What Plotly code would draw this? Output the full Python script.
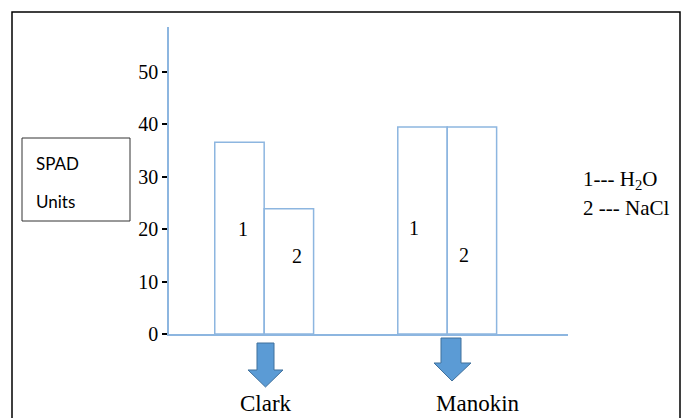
import plotly.graph_objects as go

# ---- data ----
cultivars = ["Clark", "Manokin"]
h2o_values = [36.6, 39.5]
nacl_values = [23.9, 39.5]
y_ticks = [0, 10, 20, 30, 40, 50]
series_ids = ["1", "2"]
legend_lines = ["1--- H<sub>2</sub>O", "2 --- NaCl"]
y_axis_title = ["SPAD", "Units"]

W, H = 689, 418
ML, MR, MT, MB = 169, 121, 27, 84
PW, PH = W - ML - MR, H - MT - MB
YMAX = 58.6
BLUE = "#8db6e0"
SERIF = "Liberation Serif, Times New Roman, serif"


def px(x):
    return (x - ML) / PW


def py(y):
    return (H - MB - y) / PH


fig = go.Figure()
for vals, name in [(h2o_values, "H2O"), (nacl_values, "NaCl")]:
    fig.add_trace(go.Bar(
        x=[0, 1], y=vals, name=name,
        marker=dict(color="rgba(255,255,255,0)", line=dict(color=BLUE, width=1.5)),
        showlegend=False, hoverinfo="skip",
    ))


def note(text, x0, y0, size, family=SERIF, xanchor="center"):
    fig.add_annotation(x=px(x0), y=py(y0), xref="paper", yref="paper", text=text,
                       showarrow=False, xanchor=xanchor, yanchor="middle",
                       font=dict(family=family, size=size, color="black"))


# series number labels inside bars
label_pos = [(243, 229), (297, 256), (414, 228), (464, 255)]
k = 0
for ci in range(len(cultivars)):
    for s in series_ids:
        x0, y0 = label_pos[k]
        note(s, x0, y0, 20)
        k += 1

shapes = []
# outer frame
shapes.append(dict(type="rect", xref="paper", yref="paper", x0=px(12), x1=px(680),
                   y0=py(430), y1=py(12), line=dict(color="black", width=1.5), layer="below"))
# SPAD Units box
shapes.append(dict(type="rect", xref="paper", yref="paper", x0=px(22), x1=px(130),
                   y0=py(221), y1=py(138), line=dict(color="#333333", width=1)))
# block arrows


def arrow(sx0, sx1, top, hy, hx0, hx1, tipx, tipy):
    pts = [(sx0, top), (sx1, top), (sx1, hy), (hx1, hy), (tipx, tipy), (hx0, hy), (sx0, hy)]
    p = "M " + " L ".join(f"{px(a):.5f},{py(b):.5f}" for a, b in pts) + " Z"
    return dict(type="path", xref="paper", yref="paper", path=p,
                fillcolor="#5b9bd5", line=dict(color="#41719c", width=1))


shapes.append(arrow(257, 274, 343, 370, 248, 283, 265.5, 387))
shapes.append(arrow(441, 461, 338, 363, 434, 471, 452, 381))
fig.update_layout(shapes=shapes)

for txt, y0 in zip(y_axis_title, [163, 201]):
    note(txt, 34, y0, 17, family="Lato, Open Sans, sans-serif", xanchor="left")

for txt, y0 in zip(legend_lines, [180, 208]):
    note(txt, 581, y0, 21, xanchor="left")

for txt, x0 in zip(cultivars, [266, 478]):
    note(txt, x0, 403, 23)

fig.update_layout(
    width=W, height=H,
    margin=dict(l=ML, r=MR, t=MT, b=MB, pad=0),
    paper_bgcolor="white", plot_bgcolor="white",
    barmode="group", bargap=0.46, bargroupgap=0,
    xaxis=dict(range=[-0.52, 1.66], showticklabels=False, ticks="", showgrid=False,
               zeroline=False, showline=True, linecolor=BLUE, linewidth=1.5),
    yaxis=dict(range=[0, YMAX], tickvals=y_ticks, ticks="outside", ticklen=5,
               tickcolor="black", tickwidth=1.5, showgrid=False, zeroline=False,
               showline=True, linecolor=BLUE, linewidth=1.5, ticklabelstandoff=0,
               tickfont=dict(family=SERIF, size=20, color="black")),
)

fig.write_html("out.html", config={"displayModeBar": False},
               post_script="document.body.style.margin='0';document.body.style.overflow='hidden';")
